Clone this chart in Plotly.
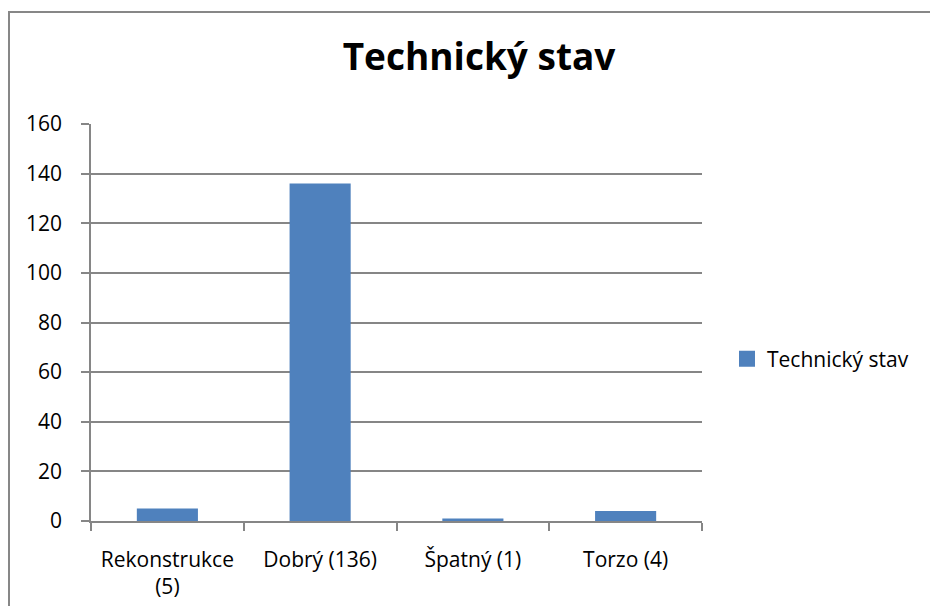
import plotly.graph_objects as go

categories = ["Rekonstrukce<br>(5)", "Dobrý (136)", "Špatný (1)", "Torzo (4)"]
values = [5, 136, 1, 4]
series_name = "Technický stav"
title_text = "Technický stav"
y_ticks = [0, 20, 40, 60, 80, 100, 120, 140, 160]

BAR = "#4F81BD"
GRID = "#868686"
FONT = "Open Sans, DejaVu Sans, sans-serif"

# page has an 8px body margin; work in figure coordinates
W, H = 922, 598
L, R, T, B = 83, 228, 116, 85
pw, ph = W - L - R, H - T - B

fig = go.Figure()
fig.add_trace(go.Bar(x=categories, y=values, marker=dict(color=BAR, line=dict(width=0)),
                     showlegend=False, name=series_name))
fig.add_trace(go.Scatter(x=[None], y=[None], mode="markers", name=series_name,
                         marker=dict(symbol="square", size=16, color=BAR), showlegend=True))

fig.update_layout(
    width=W, height=H,
    margin=dict(l=L, r=R, t=T, b=B, autoexpand=False),
    paper_bgcolor="white", plot_bgcolor="white",
    bargap=0.6,
    font=dict(family=FONT, size=21, color="#000000"),
    title=dict(text="<b>" + title_text + "</b>", x=471 / W, xref="container", xanchor="center",
               y=1 - 49 / H, yref="container", yanchor="middle",
               font=dict(family=FONT, size=37, color="#000000")),
    legend=dict(x=(719 - L) / pw, xref="paper", y=(513 - 351) / ph, yanchor="middle",
                font=dict(family=FONT, size=21), bgcolor="rgba(0,0,0,0)",
                itemwidth=30, tracegroupgap=0),
    xaxis=dict(showgrid=False, showline=True, linecolor=GRID, linewidth=1.5,
               ticks="outside", tickson="boundaries", ticklen=8, tickcolor=GRID, tickwidth=1.5,
               tickfont=dict(family=FONT, size=21), ticklabelstandoff=19, fixedrange=True),
    yaxis=dict(range=[0, 160], tickvals=y_ticks, showgrid=True, gridcolor=GRID, gridwidth=1.5,
               showline=True, linecolor=GRID, linewidth=1.5, zeroline=False,
               ticks="outside", ticklen=8, tickcolor=GRID, tickwidth=1.5,
               tickfont=dict(family=FONT, size=21), ticklabelstandoff=15, fixedrange=True),
    shapes=[dict(type="rect", xref="paper", yref="paper",
                 x0=(1 - L) / pw, x1=1.6, y0=-0.6, y1=(513 - 4) / ph,
                 line=dict(color="#878787", width=2), fillcolor="rgba(0,0,0,0)", layer="below")],
)

fig.write_html("out.html")
